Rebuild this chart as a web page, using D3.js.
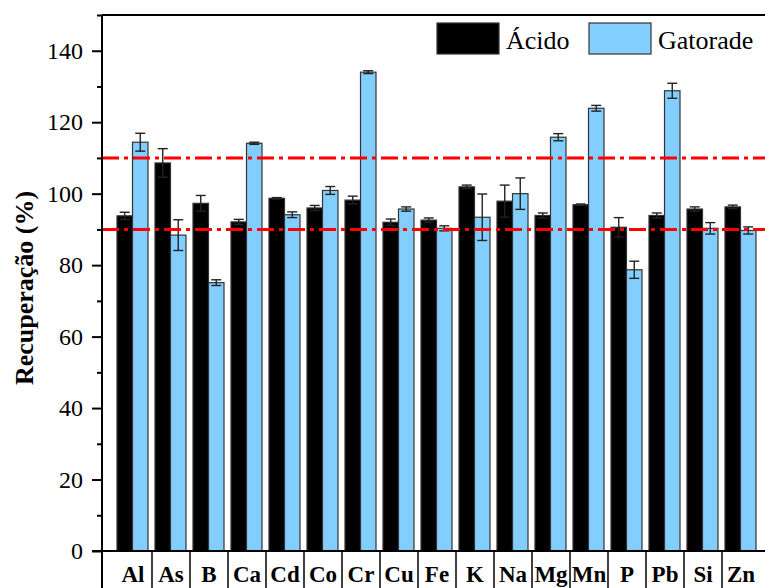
<!DOCTYPE html>
<html><head><meta charset="utf-8">
<script src="https://cdn.jsdelivr.net/npm/d3@7"></script>
</head><body style="margin:0">
<script>
const categories = ["Al","As","B","Ca","Cd","Co","Cr","Cu","Fe","K","Na","Mg","Mn","P","Pb","Si","Zn"];
const series = ["Ácido","Gatorade"];
const acido    = [93.8,108.6,97.3,92.1,98.7,96.0,98.2,92.0,92.6,101.9,97.9,93.9,96.9,90.6,93.9,95.7,96.3];
const acidoErr = [1.0,4.0,2.2,0.7,0.2,0.7,1.1,0.9,0.6,0.5,4.5,0.7,0.2,2.7,0.7,0.6,0.5];
const gator    = [114.4,88.4,75.1,114.1,94.1,100.9,134.0,95.7,90.3,93.4,100.0,115.8,123.9,78.7,128.8,90.3,89.7];
const gatorErr = [2.5,4.3,0.8,0.3,0.8,1.1,0.4,0.6,0.7,6.5,4.4,1.0,0.8,2.4,2.1,1.6,1.0];
const yTicks = [0,20,40,60,80,100,120,140];
const yMinor = [10,30,50,70,90,110,130,150];
const limits = [90,110];

const W = 765, H = 588;
const svg = d3.select("body").append("svg").attr("width", W).attr("height", H).style("display","block");
const pL = 102, pR = 765, pT = 15, pB = 551;
const y = d3.scaleLinear().domain([0,150]).range([pB, pT]);
const x = d3.scaleBand().domain(categories).range([114, 760]);
const xs = d3.scaleBand().domain(series).range([3, 34]);
const colors = {"Ácido":"#000000","Gatorade":"#82CEFF"};
const vals = {"Ácido":acido,"Gatorade":gator};
const errs = {"Ácido":acidoErr,"Gatorade":gatorErr};
const fam = d => `"Tinos"`;

series.forEach(s => {
  svg.append("g").selectAll("rect").data(categories).join("rect")
    .attr("x", c => x(c) + xs(s))
    .attr("width", xs.bandwidth())
    .attr("y", (c,i) => y(vals[s][i]))
    .attr("height", (c,i) => y(0) - y(vals[s][i]))
    .attr("fill", colors[s])
    .attr("stroke", "#333").attr("stroke-width", 1.2);
});
series.forEach(s => {
  const g = svg.append("g").attr("stroke", "#222").attr("stroke-width", 1.4);
  categories.forEach((c,i) => {
    const cx = x(c) + xs(s) + xs.bandwidth()/2;
    const v = vals[s][i], e = errs[s][i];
    g.append("line").attr("x1",cx).attr("x2",cx).attr("y1",y(v+e)).attr("y2",y(v-e));
    g.append("line").attr("x1",cx-5).attr("x2",cx+5).attr("y1",y(v+e)).attr("y2",y(v+e));
    g.append("line").attr("x1",cx-5).attr("x2",cx+5).attr("y1",y(v-e)).attr("y2",y(v-e));
  });
});
svg.append("g").selectAll("line").data(limits).join("line")
  .attr("x1", pL).attr("x2", pR)
  .attr("y1", d => y(d)).attr("y2", d => y(d))
  .attr("stroke", "#FF0000").attr("stroke-width", 3)
  .attr("stroke-dasharray", "17,5,4,5");

const ya = svg.append("g").attr("transform", `translate(${pL},0)`)
  .call(d3.axisLeft(y).tickValues(yTicks).tickSize(10).tickPadding(9).tickFormat(d3.format("d")));
ya.select(".domain").remove();
ya.selectAll("line").attr("stroke","#000").attr("stroke-width",2);
ya.selectAll("text").style("font-family", fam).attr("font-size",24).attr("fill","#000");
const ym = svg.append("g").attr("transform", `translate(${pL},0)`)
  .call(d3.axisLeft(y).tickValues(yMinor).tickSize(5).tickFormat(""));
ym.select(".domain").remove();
ym.selectAll("line").attr("stroke","#000").attr("stroke-width",2);

svg.append("line").attr("x1",pL).attr("x2",pL).attr("y1",pT).attr("y2",H).attr("stroke","#000").attr("stroke-width",2);
svg.append("line").attr("x1",pL).attr("x2",pR).attr("y1",pT).attr("y2",pT).attr("stroke","#000").attr("stroke-width",2);
svg.append("line").attr("x1",pL-10).attr("x2",pR).attr("y1",pB).attr("y2",pB).attr("stroke","#000").attr("stroke-width",2);

svg.append("g").selectAll("line").data(categories.slice(0,-1)).join("line")
  .attr("x1", c => x(c) + x.bandwidth()).attr("x2", c => x(c) + x.bandwidth())
  .attr("y1", pB).attr("y2", H).attr("stroke","#000").attr("stroke-width",1.5);
svg.append("g").selectAll("text").data(categories).join("text")
  .attr("x", c => x(c) + x.bandwidth()/2).attr("y", 582)
  .attr("text-anchor","middle")
  .style("font-family", fam).attr("font-weight","bold").attr("font-size",23)
  .text(c => c);

svg.append("text").datum("Recuperação (%)").attr("transform","translate(33,288) rotate(-90)")
  .attr("text-anchor","middle")
  .style("font-family", fam).attr("font-weight","bold").attr("font-size",26)
  .text(d => d);

const leg = [{s:"Ácido", x:437},{s:"Gatorade", x:589}];
svg.append("g").selectAll("rect").data(leg).join("rect")
  .attr("x", l => l.x).attr("y", 23).attr("width", 62).attr("height", 31)
  .attr("fill", l => colors[l.s]).attr("stroke","#333").attr("stroke-width",1.2);
svg.append("g").selectAll("text").data(leg).join("text")
  .attr("x", l => l.x + 69).attr("y", 49)
  .style("font-family", fam).attr("font-size",26)
  .text(l => l.s);
</script>
</body></html>
